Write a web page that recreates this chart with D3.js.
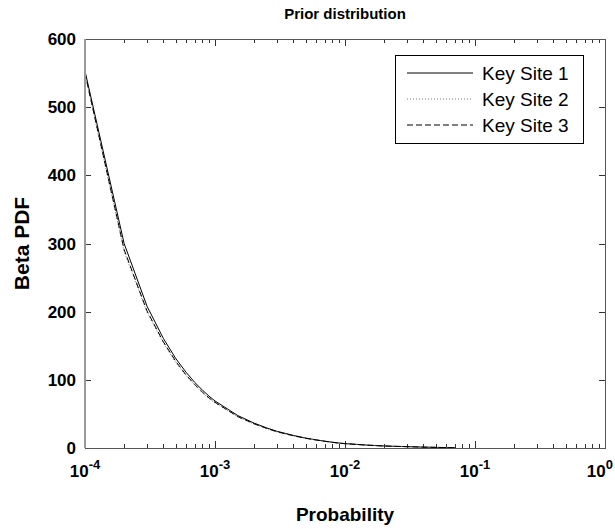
<!DOCTYPE html>
<html>
<head>
<meta charset="utf-8">
<script src="https://cdn.jsdelivr.net/npm/d3@7"></script>
<style>
  body { margin: 0; background: #fff; }
  svg { font-family: "Liberation Sans", Arial, sans-serif; }
</style>
</head>
<body>
<svg id="chart" width="615" height="529"></svg>
<script>
// x positions where the curves were sampled
const probs = [
  1e-4, 2e-4, 3e-4, 4e-4, 5e-4, 6e-4, 7e-4, 8e-4, 9e-4,
  1e-3, 1.5e-3, 2e-3, 2.5e-3, 3e-3, 4e-3, 5e-3, 6e-3, 7e-3, 8e-3, 9e-3,
  1e-2, 1.5e-2, 2e-2, 2.5e-2, 3e-2, 4e-2, 5e-2, 6e-2, 7e-2
];
const site1 = [553, 300, 208, 161, 131, 111, 96, 85, 76,
  69, 47.5, 36.5, 29.5, 24.5, 18.5, 14.5, 12, 10, 8.5, 7.3,
  6.5, 4.2, 3, 2.4, 2, 1.3, 0.9, 0.6, 0.4];
const site2 = [548, 288, 199, 154, 125, 106, 92, 81, 72.5,
  66, 45.5, 35, 28.4, 23.5, 17.7, 14, 11.5, 9.6, 8.2, 7,
  6.2, 4, 2.9, 2.3, 1.9, 1.25, 0.85, 0.6, 0.4];
const site3 = [550, 291, 201, 156, 127, 107, 93, 82, 73.5,
  67, 46, 35.5, 28.8, 23.8, 18, 14.2, 11.7, 9.8, 8.3, 7.1,
  6.3, 4.1, 2.9, 2.35, 1.95, 1.3, 0.9, 0.6, 0.4];
const seriesNames = ["Key Site 1", "Key Site 2", "Key Site 3"];
const yTicks = [0, 100, 200, 300, 400, 500, 600];
const xDecades = [-4, -3, -2, -1, 0];

const margin = {left: 85, right: 10, top: 39, bottom: 81};
const W = 615, H = 529;
const svg = d3.select("#chart");

const x = d3.scaleLog().domain([1e-4, 1]).range([margin.left, W - margin.right]);
const y = d3.scaleLinear().domain([0, 600]).range([H - margin.bottom, margin.top]);

const styles = [
  {color: "#000", dash: null, width: 1},
  {color: "#777", dash: "1,2", width: 1},
  {color: "#000", dash: "6,3", width: 1}
];

// ticks
const minor = [];
xDecades.slice(0, -1).forEach(e => {
  for (let k = 2; k <= 9; k++) minor.push(k * Math.pow(10, e));
});
const tg = svg.append("g").attr("stroke", "#333").attr("stroke-width", 1);
const x0 = x.range()[0], x1 = x.range()[1], yb = y.range()[0], yt = y.range()[1];
xDecades.forEach(e => {
  const px = Math.round(x(Math.pow(10, e))) + 0.5;
  tg.append("line").attr("x1", px).attr("x2", px).attr("y1", yb).attr("y2", yb - 7);
  tg.append("line").attr("x1", px).attr("x2", px).attr("y1", yt).attr("y2", yt + 7);
});
minor.forEach(v => {
  const px = Math.round(x(v)) + 0.5;
  tg.append("line").attr("x1", px).attr("x2", px).attr("y1", yb).attr("y2", yb - 4);
  tg.append("line").attr("x1", px).attr("x2", px).attr("y1", yt).attr("y2", yt + 4);
});
yTicks.forEach(v => {
  const py = Math.round(y(v)) + 0.5;
  tg.append("line").attr("x1", x0).attr("x2", x0 + 6).attr("y1", py).attr("y2", py);
  tg.append("line").attr("x1", x1).attr("x2", x1 - 6).attr("y1", py).attr("y2", py);
});

// curves
const line = d3.line().x(d => x(d[0])).y(d => y(d[1]));
[site1, site2, site3].forEach((vals, i) => {
  svg.append("path")
    .datum(probs.map((p, j) => [p, vals[j]]))
    .attr("d", line)
    .attr("fill", "none")
    .attr("stroke", styles[i].color)
    .attr("stroke-width", styles[i].width)
    .attr("stroke-dasharray", styles[i].dash);
});

// box
svg.append("rect")
  .attr("x", x0 + 0.5).attr("y", yt + 0.5)
  .attr("width", x1 - x0).attr("height", yb - yt)
  .attr("fill", "none").attr("stroke", "#555").attr("stroke-width", 1);
svg.append("line").attr("x1", x0).attr("x2", x0).attr("y1", yt).attr("y2", yb)
  .attr("stroke", "#999").attr("stroke-width", 2);

// y tick labels
svg.append("g").selectAll("text").data(yTicks).join("text")
  .attr("x", x0 - 9).attr("y", d => y(d) + 6)
  .attr("text-anchor", "end")
  .attr("font-size", 17).attr("font-weight", "bold")
  .text(d => d);

// x tick labels 10^e (last one kept inside the window)
const xl = svg.append("g").selectAll("text").data(xDecades).join("text")
  .attr("x", d => d === 0 ? W - 2 : x(Math.pow(10, d)))
  .attr("y", yb + 29)
  .attr("text-anchor", d => d === 0 ? "end" : "middle")
  .attr("font-size", 17).attr("font-weight", "bold");
xl.append("tspan").text("10");
xl.append("tspan").attr("dy", -8).attr("font-size", 13).text(d => d);

// title and axis labels
svg.append("text").attr("x", (x0 + x1) / 2).attr("y", 19)
  .attr("text-anchor", "middle").attr("font-size", 15).attr("font-weight", "bold")
  .text("Prior distribution");
svg.append("text").attr("x", (x0 + x1) / 2).attr("y", 521)
  .attr("text-anchor", "middle").attr("font-size", 19).attr("font-weight", "bold")
  .text("Probability");
svg.append("text")
  .attr("transform", `translate(29,${(yt + yb) / 2}) rotate(-90)`)
  .attr("text-anchor", "middle").attr("font-size", 21).attr("font-weight", "bold")
  .text("Beta PDF");

// legend
const lg = svg.append("g").attr("transform", "translate(395,55)");
lg.append("rect").attr("x", 0.5).attr("y", 0.5).attr("width", 188).attr("height", 88)
  .attr("fill", "#fff").attr("stroke", "#000");
seriesNames.forEach((name, i) => {
  const ly = 18 + i * 26;
  lg.append("line").attr("x1", 12).attr("x2", 78).attr("y1", ly).attr("y2", ly)
    .attr("stroke", styles[i].color).attr("stroke-width", styles[i].width)
    .attr("stroke-dasharray", styles[i].dash);
  lg.append("text").attr("x", 87).attr("y", ly + 7)
    .attr("font-size", 19).text(name);
});
</script>
</body>
</html>
